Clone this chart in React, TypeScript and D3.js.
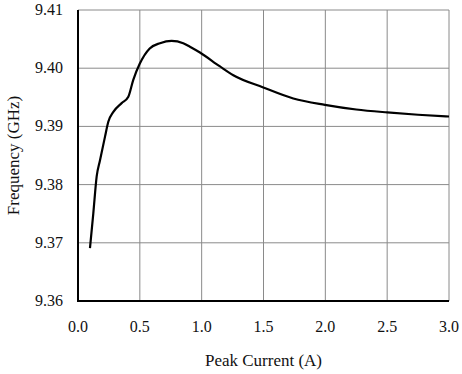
import React, { useEffect, useRef } from 'react'
import * as d3 from 'd3'

const currents = [0.097, 0.124, 0.151, 0.178, 0.218, 0.245, 0.286, 0.353, 0.407, 0.447, 0.5, 0.58, 0.663, 0.757, 0.851, 0.905, 0.986, 1.148, 1.256, 1.498, 1.741, 1.997, 2.25, 2.5, 2.75, 3.0]
const frequencies = [9.3691, 9.3751, 9.3814, 9.3842, 9.3882, 9.3908, 9.3925, 9.394, 9.3951, 9.398, 9.4008, 9.4034, 9.4043, 9.4047, 9.4043, 9.4037, 9.4027, 9.4003, 9.3988, 9.3967, 9.3948, 9.3937, 9.3929, 9.3924, 9.392, 9.3917]
const xTicks = [0, 0.5, 1.0, 1.5, 2.0, 2.5, 3.0]
const yTicks = [9.36, 9.37, 9.38, 9.39, 9.4, 9.41]

const App: React.FC = () => {
  const ref = useRef<SVGSVGElement>(null)

  useEffect(() => {
    const width = 462
    const height = 374
    const margin = { top: 10, right: 13, bottom: 73, left: 78 }
    const innerW = width - margin.left - margin.right
    const innerH = height - margin.top - margin.bottom
    const font = "'Liberation Serif', 'DejaVu Serif', serif"

    const svg = d3.select(ref.current).attr('width', width).attr('height', height)
    svg.selectAll('*').remove()
    svg.append('rect').attr('width', width).attr('height', height).attr('fill', '#fff')

    const g = svg.append('g').attr('transform', `translate(${margin.left},${margin.top})`)

    const x = d3.scaleLinear().domain([0, 3]).range([0, innerW])
    const y = d3.scaleLinear().domain([9.36, 9.41]).range([innerH, 0])

    // grid
    g.selectAll('.vgrid')
      .data(xTicks.slice(1))
      .enter()
      .append('line')
      .attr('x1', (d) => x(d))
      .attr('x2', (d) => x(d))
      .attr('y1', 0)
      .attr('y2', innerH)
      .attr('stroke', '#8a8a8a')
      .attr('stroke-width', 1)

    g.selectAll('.hgrid')
      .data(yTicks.slice(1))
      .enter()
      .append('line')
      .attr('x1', 0)
      .attr('x2', innerW)
      .attr('y1', (d) => y(d))
      .attr('y2', (d) => y(d))
      .attr('stroke', '#8a8a8a')
      .attr('stroke-width', 1)

    // axes frame
    g.append('line').attr('x1', 0).attr('x2', 0).attr('y1', 0).attr('y2', innerH).attr('stroke', '#000').attr('stroke-width', 2)
    g.append('line').attr('x1', -1).attr('x2', innerW).attr('y1', innerH).attr('y2', innerH).attr('stroke', '#000').attr('stroke-width', 2)

    // tick labels
    g.selectAll('.xlab')
      .data(xTicks)
      .enter()
      .append('text')
      .attr('x', (d) => x(d))
      .attr('y', innerH + 31)
      .attr('text-anchor', 'middle')
      .style('font-family', font)
      .style('font-size', '16px')
      .attr('fill', '#111')
      .text((d) => d.toFixed(1))

    g.selectAll('.ylab')
      .data(yTicks)
      .enter()
      .append('text')
      .attr('x', -15)
      .attr('y', (d) => y(d) + 5)
      .attr('text-anchor', 'end')
      .style('font-family', font)
      .style('font-size', '16px')
      .attr('fill', '#111')
      .text((d) => d.toFixed(2))

    // axis titles
    svg.append('text')
      .attr('x', margin.left + innerW / 2)
      .attr('y', 366)
      .attr('text-anchor', 'middle')
      .style('font-family', font)
      .style('font-size', '17px')
      .attr('fill', '#111')
      .text('Peak Current (A)')

    svg.append('text')
      .attr('transform', `translate(19,${margin.top + innerH / 2}) rotate(-90)`)
      .attr('text-anchor', 'middle')
      .style('font-family', font)
      .style('font-size', '17px')
      .attr('fill', '#111')
      .text('Frequency (GHz)')

    // curve
    const pts = currents.map((c, i) => [c, frequencies[i]] as [number, number])
    const line = d3
      .line<[number, number]>()
      .x((d) => x(d[0]))
      .y((d) => y(d[1]))
      .curve(d3.curveMonotoneX)

    g.append('path')
      .datum(pts)
      .attr('d', line)
      .attr('fill', 'none')
      .attr('stroke', '#000')
      .attr('stroke-width', 2.2)
  }, [])

  return <svg ref={ref} style={{ position: 'absolute', top: 0, left: 0 }} />
}

export default App
